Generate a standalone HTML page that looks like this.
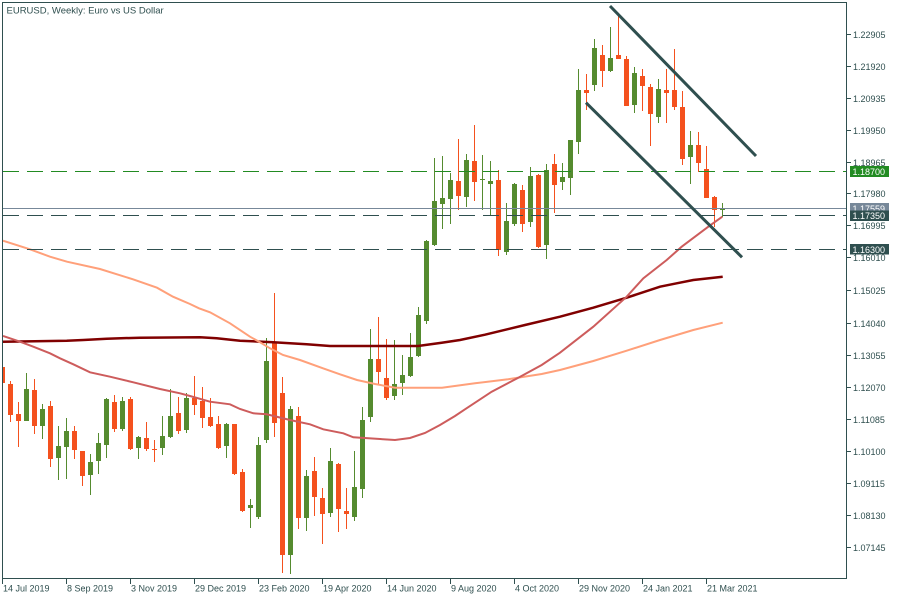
<!DOCTYPE html>
<html><head><meta charset="utf-8"><style>
html,body{margin:0;padding:0;background:#fff;}
svg{display:block;}
text{font-family:"Liberation Sans",Arial,sans-serif;}
</style></head><body>
<svg width="900" height="600" viewBox="0 0 900 600" xmlns="http://www.w3.org/2000/svg">
<rect x="0" y="0" width="900" height="600" fill="#fff"/>
<defs><clipPath id="c"><rect x="3" y="3" width="843.5" height="575.5"/></clipPath></defs>
<g clip-path="url(#c)">
<!-- red candles -->
<g fill="#F4511E">
<rect x="0" y="367" width="5" height="16"/>
<rect x="10" y="381" width="1" height="41"/><rect x="8" y="384" width="5" height="31"/>
<rect x="18" y="402" width="1" height="45"/><rect x="16" y="414" width="5" height="7"/>
<rect x="34" y="379" width="1" height="55"/><rect x="32" y="390" width="5" height="36"/>
<rect x="50" y="401" width="1" height="66"/><rect x="48" y="406" width="5" height="53"/>
<rect x="74" y="426" width="1" height="33"/><rect x="72" y="431" width="5" height="19"/>
<rect x="82" y="451" width="1" height="35"/><rect x="80" y="451" width="5" height="25"/>
<rect x="114" y="395" width="1" height="37"/><rect x="112" y="402" width="5" height="27"/>
<rect x="130" y="397" width="1" height="53"/><rect x="128" y="399" width="5" height="50"/>
<rect x="146" y="422" width="1" height="29"/><rect x="144" y="438" width="5" height="11"/>
<rect x="154" y="440" width="1" height="22"/><rect x="152" y="449" width="5" height="1"/>
<rect x="178" y="397" width="1" height="37"/><rect x="176" y="413" width="5" height="18"/>
<rect x="194" y="376" width="1" height="39"/><rect x="192" y="398" width="5" height="7"/>
<rect x="202" y="387" width="1" height="41"/><rect x="200" y="401" width="5" height="17"/>
<rect x="210" y="398" width="1" height="29"/><rect x="208" y="417" width="5" height="9"/>
<rect x="218" y="416" width="1" height="33"/><rect x="216" y="424" width="5" height="24"/>
<rect x="234" y="424" width="1" height="51"/><rect x="232" y="424" width="5" height="50"/>
<rect x="242" y="469" width="1" height="43"/><rect x="240" y="472" width="5" height="39"/>
<rect x="274" y="293" width="1" height="144"/><rect x="272" y="343" width="5" height="80"/>
<rect x="282" y="377" width="1" height="196"/><rect x="280" y="393" width="5" height="162"/>
<rect x="298" y="407" width="1" height="122"/><rect x="296" y="416" width="5" height="102"/>
<rect x="314" y="457" width="1" height="59"/><rect x="312" y="471" width="5" height="26"/>
<rect x="322" y="488" width="1" height="56"/><rect x="320" y="498" width="5" height="16"/>
<rect x="338" y="463" width="1" height="69"/><rect x="336" y="464" width="5" height="45"/>
<rect x="346" y="488" width="1" height="41"/><rect x="344" y="511" width="5" height="3"/>
<rect x="378" y="317" width="1" height="67"/><rect x="376" y="359" width="5" height="13"/>
<rect x="386" y="339" width="1" height="61"/><rect x="384" y="378" width="5" height="20"/>
<rect x="458" y="139" width="1" height="71"/><rect x="456" y="181" width="5" height="15"/>
<rect x="474" y="125" width="1" height="76"/><rect x="472" y="161" width="5" height="21"/>
<rect x="498" y="170" width="1" height="86"/><rect x="496" y="180" width="5" height="70"/>
<rect x="522" y="185" width="1" height="47"/><rect x="520" y="190" width="5" height="34"/>
<rect x="538" y="174" width="1" height="74"/><rect x="536" y="175" width="5" height="72"/>
<rect x="554" y="154" width="1" height="59"/><rect x="552" y="164" width="5" height="21"/>
<rect x="586" y="74" width="1" height="36"/><rect x="584" y="90" width="5" height="3"/>
<rect x="602" y="45" width="1" height="42"/><rect x="600" y="55" width="5" height="16"/>
<rect x="618" y="14" width="1" height="45"/><rect x="616" y="55" width="5" height="4"/>
<rect x="626" y="56" width="1" height="50"/><rect x="624" y="59" width="5" height="47"/>
<rect x="642" y="69" width="1" height="42"/><rect x="640" y="76" width="5" height="10"/>
<rect x="650" y="84" width="1" height="62"/><rect x="648" y="87" width="5" height="27"/>
<rect x="666" y="69" width="1" height="54"/><rect x="664" y="90" width="5" height="3"/>
<rect x="674" y="49" width="1" height="61"/><rect x="672" y="90" width="5" height="17"/>
<rect x="682" y="91" width="1" height="74"/><rect x="680" y="107" width="5" height="52"/>
<rect x="698" y="132" width="1" height="40"/><rect x="696" y="145" width="5" height="18"/>
<rect x="706" y="146" width="1" height="52"/><rect x="704" y="169" width="5" height="29"/>
<rect x="714" y="196" width="1" height="31"/><rect x="712" y="197" width="5" height="13"/>
</g>
<!-- green candles -->
<g fill="#558B2F">
<rect x="26" y="373" width="1" height="48"/><rect x="24" y="389" width="5" height="32"/>
<rect x="42" y="404" width="1" height="35"/><rect x="40" y="409" width="5" height="17"/>
<rect x="58" y="426" width="1" height="54"/><rect x="56" y="446" width="5" height="12"/>
<rect x="66" y="418" width="1" height="61"/><rect x="64" y="431" width="5" height="16"/>
<rect x="90" y="454" width="1" height="41"/><rect x="88" y="462" width="5" height="13"/>
<rect x="98" y="433" width="1" height="41"/><rect x="96" y="443" width="5" height="18"/>
<rect x="106" y="398" width="1" height="60"/><rect x="104" y="399" width="5" height="46"/>
<rect x="122" y="397" width="1" height="34"/><rect x="120" y="401" width="5" height="28"/>
<rect x="138" y="436" width="1" height="23"/><rect x="136" y="437" width="5" height="11"/>
<rect x="162" y="416" width="1" height="39"/><rect x="160" y="436" width="5" height="12"/>
<rect x="170" y="389" width="1" height="49"/><rect x="168" y="416" width="5" height="21"/>
<rect x="186" y="393" width="1" height="40"/><rect x="184" y="398" width="5" height="32"/>
<rect x="226" y="423" width="1" height="35"/><rect x="224" y="424" width="5" height="22"/>
<rect x="250" y="499" width="1" height="29"/><rect x="248" y="505" width="5" height="3"/>
<rect x="258" y="437" width="1" height="82"/><rect x="256" y="445" width="5" height="72"/>
<rect x="266" y="338" width="1" height="105"/><rect x="264" y="361" width="5" height="79"/>
<rect x="290" y="406" width="1" height="168"/><rect x="288" y="409" width="5" height="146"/>
<rect x="306" y="470" width="1" height="61"/><rect x="304" y="476" width="5" height="42"/>
<rect x="330" y="448" width="1" height="69"/><rect x="328" y="461" width="5" height="52"/>
<rect x="354" y="451" width="1" height="70"/><rect x="352" y="487" width="5" height="30"/>
<rect x="362" y="407" width="1" height="91"/><rect x="360" y="420" width="5" height="69"/>
<rect x="370" y="329" width="1" height="93"/><rect x="368" y="359" width="5" height="58"/>
<rect x="394" y="340" width="1" height="60"/><rect x="392" y="384" width="5" height="12"/>
<rect x="402" y="355" width="1" height="40"/><rect x="400" y="375" width="5" height="8"/>
<rect x="410" y="333" width="1" height="44"/><rect x="408" y="357" width="5" height="19"/>
<rect x="418" y="307" width="1" height="50"/><rect x="416" y="315" width="5" height="41"/>
<rect x="426" y="240" width="1" height="84"/><rect x="424" y="241" width="5" height="80"/>
<rect x="434" y="158" width="1" height="88"/><rect x="432" y="201" width="5" height="44"/>
<rect x="442" y="156" width="1" height="73"/><rect x="440" y="198" width="5" height="6"/>
<rect x="450" y="173" width="1" height="51"/><rect x="448" y="180" width="5" height="19"/>
<rect x="466" y="154" width="1" height="53"/><rect x="464" y="160" width="5" height="37"/>
<rect x="482" y="155" width="1" height="55"/><rect x="480" y="179" width="5" height="1"/>
<rect x="490" y="161" width="1" height="54"/><rect x="488" y="181" width="5" height="3"/>
<rect x="506" y="203" width="1" height="52"/><rect x="504" y="221" width="5" height="31"/>
<rect x="514" y="183" width="1" height="43"/><rect x="512" y="184" width="5" height="40"/>
<rect x="530" y="167" width="1" height="60"/><rect x="528" y="176" width="5" height="46"/>
<rect x="546" y="164" width="1" height="95"/><rect x="544" y="170" width="5" height="75"/>
<rect x="562" y="163" width="1" height="27"/><rect x="560" y="177" width="5" height="5"/>
<rect x="570" y="140" width="1" height="55"/><rect x="568" y="140" width="5" height="38"/>
<rect x="578" y="69" width="1" height="85"/><rect x="576" y="90" width="5" height="52"/>
<rect x="594" y="39" width="1" height="52"/><rect x="592" y="48" width="5" height="37"/>
<rect x="610" y="27" width="1" height="45"/><rect x="608" y="58" width="5" height="13"/>
<rect x="634" y="67" width="1" height="46"/><rect x="632" y="73" width="5" height="32"/>
<rect x="658" y="79" width="1" height="44"/><rect x="656" y="89" width="5" height="28"/>
<rect x="690" y="131" width="1" height="53"/><rect x="688" y="145" width="5" height="12"/>
<rect x="722" y="203" width="1" height="14"/><rect x="720" y="208" width="5" height="2"/>
</g>
<!-- moving averages -->
<polyline fill="none" stroke="#800000" stroke-width="2.5" points="3,341.7 66.7,340.7 83.3,340 106.7,338.7 140,337.7 200,337.3 216.7,338.3 240,340.7 273.3,342.3 306.7,344.3 330,346 380,346 418,346 441.7,342.7 460,340 485,334.7 525,325 560,316.7 593.3,307.7 626.7,297.7 660,286.7 676.7,283.3 693.3,280 722.7,276.7"/>
<polyline fill="none" stroke="#FFA07A" stroke-width="2" points="3,240.7 30,249.3 50,256.7 67,261.7 100,269 133,279.3 157,287.7 173,296.7 190,304 199,308.3 210,312.3 230,323.3 250,336.7 260,342.3 270,348.3 283,355 300,360 323,368.3 340,374.3 357,380 375,384 395,387.7 442,387.7 475,383.3 508,379.3 541.7,374 560,370 593.3,361 626.7,350.7 660,340 693.3,330 722.7,322.7"/>
<polyline fill="none" stroke="#CD5C5C" stroke-width="2" points="3,336 20,341.7 33.3,346.7 50,353.3 60,358.3 73.3,364.3 90,372.3 110,376.7 133.3,382.3 160,389 180,393.3 190,396 210,401.7 230,404.3 240,409 253.3,413.3 266.7,414.3 290,420 310,424.3 323.3,429.3 343.3,433.3 353.3,437.3 380,439 395,440 410,438 425,433 440,425 455,416 465,409.3 491.7,391.7 518.3,377.7 541.7,365 560,352.7 593.3,326.7 626.7,296.7 643.3,278.3 666.7,260 681.7,246.7 708.3,226.7 722.3,216.7"/>
<!-- horizontal lines -->
<line x1="3" x2="847" y1="171.5" y2="171.5" stroke="#228B22" stroke-width="1" stroke-dasharray="16 8"/>
<line x1="3" x2="847" y1="208.5" y2="208.5" stroke="#778899" stroke-width="1"/>
<line x1="3" x2="847" y1="215.5" y2="215.5" stroke="#2F4F4F" stroke-width="1" stroke-dasharray="16 8"/>
<line x1="3" x2="847" y1="249.5" y2="249.5" stroke="#2F4F4F" stroke-width="1" stroke-dasharray="16 8"/>
<!-- trend lines -->
<line x1="610" y1="6" x2="756" y2="156" stroke="#2F4F4F" stroke-width="3"/>
<line x1="586" y1="102.7" x2="742" y2="257.3" stroke="#2F4F4F" stroke-width="3"/>
</g>
<!-- frame -->
<rect x="2.5" y="2.5" width="844" height="576" fill="none" stroke="#2F4F4F" stroke-width="1"/>
<!-- title -->
<text x="6.5" y="13.5" font-size="9.5" fill="#2F4F4F">EURUSD, Weekly:  Euro vs US Dollar</text>
<!-- right axis ticks -->
<g stroke="#2F4F4F" stroke-width="1">
<line x1="847" x2="851" y1="34.5" y2="34.5"/><line x1="847" x2="851" y1="66.5" y2="66.5"/>
<line x1="847" x2="851" y1="98.5" y2="98.5"/><line x1="847" x2="851" y1="130.5" y2="130.5"/>
<line x1="847" x2="851" y1="162.5" y2="162.5"/><line x1="847" x2="851" y1="193.5" y2="193.5"/>
<line x1="847" x2="851" y1="225.5" y2="225.5"/><line x1="847" x2="851" y1="257.5" y2="257.5"/>
<line x1="847" x2="851" y1="290.5" y2="290.5"/><line x1="847" x2="851" y1="323.5" y2="323.5"/>
<line x1="847" x2="851" y1="355.5" y2="355.5"/><line x1="847" x2="851" y1="387.5" y2="387.5"/>
<line x1="847" x2="851" y1="419.5" y2="419.5"/><line x1="847" x2="851" y1="451.5" y2="451.5"/>
<line x1="847" x2="851" y1="483.5" y2="483.5"/><line x1="847" x2="851" y1="515.5" y2="515.5"/>
<line x1="847" x2="851" y1="547.5" y2="547.5"/>
</g>
<g font-size="9" fill="#2F4F4F">
<text x="853" y="37.8">1.22905</text><text x="853" y="69.8">1.21920</text>
<text x="853" y="101.8">1.20935</text><text x="853" y="133.8">1.19950</text>
<text x="853" y="165.8">1.18965</text><text x="853" y="196.8">1.17980</text>
<text x="853" y="228.8">1.16995</text><text x="853" y="260.8">1.16010</text>
<text x="853" y="293.8">1.15025</text><text x="853" y="326.8">1.14040</text>
<text x="853" y="358.8">1.13055</text><text x="853" y="390.8">1.12070</text>
<text x="853" y="422.8">1.11085</text><text x="853" y="454.8">1.10100</text>
<text x="853" y="486.8">1.09115</text><text x="853" y="518.8">1.08130</text>
<text x="853" y="550.8">1.07145</text>
</g>
<!-- price label boxes -->
<rect x="850" y="166" width="39" height="11" fill="#228B22"/>
<text x="852.5" y="174.8" font-size="9" fill="#fff">1.18700</text>
<rect x="850" y="203" width="39" height="11" fill="#778899"/>
<text x="852.5" y="211.8" font-size="9" fill="#fff">1.17559</text>
<rect x="850" y="210.5" width="39" height="10.5" fill="#2F4F4F"/>
<text x="852.5" y="219" font-size="9" fill="#fff">1.17350</text>
<rect x="850" y="244" width="39" height="10.5" fill="#2F4F4F"/>
<text x="852.5" y="252.8" font-size="9" fill="#fff">1.16300</text>
<!-- bottom axis ticks -->
<g stroke="#2F4F4F" stroke-width="1">
<line x1="2.5" x2="2.5" y1="579" y2="584"/><line x1="66.5" x2="66.5" y1="579" y2="584"/>
<line x1="130.5" x2="130.5" y1="579" y2="584"/><line x1="194.5" x2="194.5" y1="579" y2="584"/>
<line x1="258.5" x2="258.5" y1="579" y2="584"/><line x1="322.5" x2="322.5" y1="579" y2="584"/>
<line x1="386.5" x2="386.5" y1="579" y2="584"/><line x1="450.5" x2="450.5" y1="579" y2="584"/>
<line x1="514.5" x2="514.5" y1="579" y2="584"/><line x1="578.5" x2="578.5" y1="579" y2="584"/>
<line x1="642.5" x2="642.5" y1="579" y2="584"/><line x1="706.5" x2="706.5" y1="579" y2="584"/>
</g>
<g font-size="9" fill="#2F4F4F">
<text x="3" y="591.5">14 Jul 2019</text>
<text x="67" y="591.5">8 Sep 2019</text>
<text x="131" y="591.5">3 Nov 2019</text>
<text x="195" y="591.5">29 Dec 2019</text>
<text x="259" y="591.5">23 Feb 2020</text>
<text x="323" y="591.5">19 Apr 2020</text>
<text x="387" y="591.5">14 Jun 2020</text>
<text x="451" y="591.5">9 Aug 2020</text>
<text x="515" y="591.5">4 Oct 2020</text>
<text x="579" y="591.5">29 Nov 2020</text>
<text x="643" y="591.5">24 Jan 2021</text>
<text x="707" y="591.5">21 Mar 2021</text>
</g>
</svg>
</body></html>
